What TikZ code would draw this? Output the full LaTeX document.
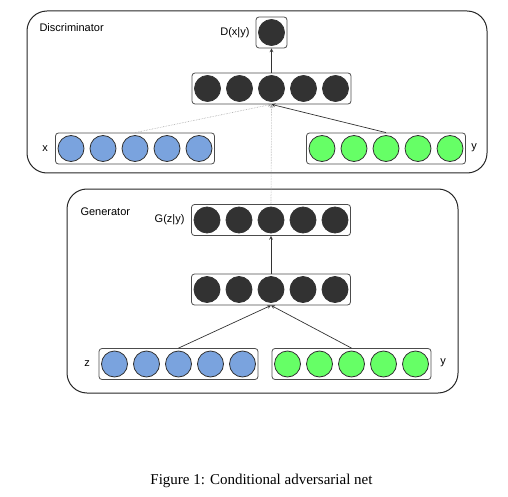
\documentclass[tikz,border=0pt]{standalone}
\usepackage{fontspec}
\setmainfont{Liberation Serif}
\setsansfont{Liberation Sans}
\usepackage{tikz}
\usetikzlibrary{arrows}
\definecolor{unitblue}{RGB}{122,163,222}
\definecolor{unitgreen}{RGB}{102,255,102}
\definecolor{unitdark}{RGB}{50,50,50}

\begin{document}
\begin{tikzpicture}[x=1pt,y=-1pt,>=stealth,
        every node/.style={font=\sffamily\fontsize{11}{13}\selectfont},
        unit/.style={circle,draw=unitdark,line width=0.8pt,minimum size=26pt,inner sep=0pt},
        layer/.style={draw=black!70,rounded corners=3pt,line width=0.8pt,minimum width=159pt,minimum height=31pt,inner sep=0pt},
        net/.style={draw=black!85,rounded corners=20pt,line width=1pt,inner sep=0pt},
        link/.style={->,line width=0.7pt,draw=black!80},
        cond/.style={->,densely dotted,line width=0.6pt,draw=black!35}]
        \useasboundingbox (0,0) rectangle (508,497);
        % outer boxes
        \node[net,minimum width=460pt,minimum height=162pt] (disc) at (257,92) {};
        \node[net,minimum width=391pt,minimum height=204pt] (gen) at (262.5,291) {};
        \node[anchor=west] (disclab) at (36,28) {Discriminator};
        \node[anchor=west] (genlab) at (77,212) {Generator};
        % discriminator layers
        \node[layer,minimum width=31pt] (dout) at (271.5,32.5) {};
        \node[unit,fill=unitdark] (dout1) at (dout) {};
        \node[layer] (dhid) at (271.5,88.5) {};
        \node[layer] (xin) at (135,148.5) {};
        \node[layer] (ydin) at (386,148.5) {};
        \foreach \i in {1,...,5} {
            \node[unit,fill=unitdark] (dhid\i) at (175.5+32*\i,88.5) {};
            \node[unit,fill=unitblue] (xin\i) at (39+32*\i,148.5) {};
            \node[unit,fill=unitgreen] (ydin\i) at (290+32*\i,148.5) {};
        }
        \node[anchor=east] (dlab) at (253,33) {D(x|y)};
        \node (xlab) at (45,149) {x};
        \node (ydlab) at (474,148) {y};
        % generator layers
        \node[layer] (gout) at (271,220) {};
        \node[layer] (ghid) at (271,289.5) {};
        \node[layer] (zin) at (178.5,364) {};
        \node[layer] (ygin) at (351.5,364) {};
        \foreach \i in {1,...,5} {
            \node[unit,fill=unitdark] (gout\i) at (175+32*\i,220) {};
            \node[unit,fill=unitdark] (ghid\i) at (175+32*\i,289.5) {};
            \node[unit,fill=unitblue] (zin\i) at (82.5+32*\i,364) {};
            \node[unit,fill=unitgreen] (ygin\i) at (255.5+32*\i,364) {};
        }
        \node[anchor=east] (glab) at (188,220) {G(z|y)};
        \node (zlab) at (87,364) {z};
        \node (yglab) at (443,363) {y};
        % connections
        \draw[cond] (xin.north) -- (dhid.south);
        \draw[cond] (gout.north) -- (dhid.south);
        \draw[link] (ydin.north) -- (dhid.south);
        \draw[link] (dhid.north) -- (dout.south);
        \draw[link] (ghid.north) -- (gout.south);
        \draw[link] (zin.north) -- (ghid.south);
        \draw[link] (ygin.north) -- (ghid.south);
        % caption
        \node[font=\rmfamily\fontsize{15}{18}\selectfont] (caption) at (261.5,481) {Figure 1: Conditional adversarial net};
    \end{tikzpicture}
\end{document}
